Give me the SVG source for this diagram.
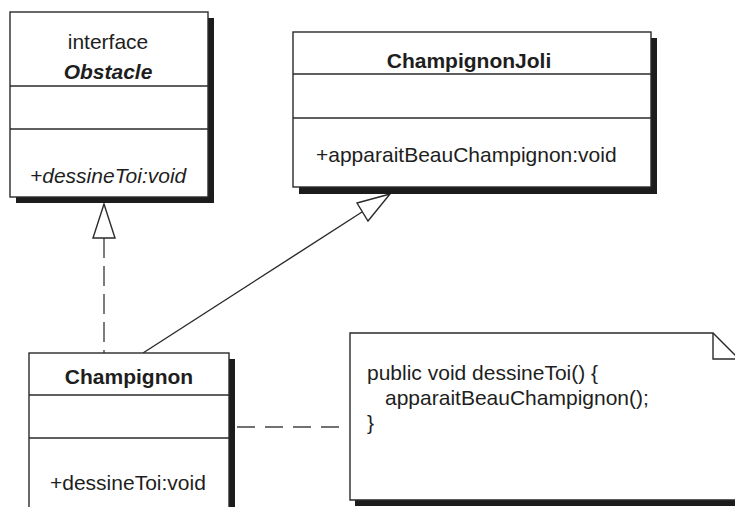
<svg xmlns="http://www.w3.org/2000/svg" width="735" height="507" viewBox="0 0 735 507">
<style>
.shadow{fill:#1c1c1c;stroke:none}
.box{fill:#fff;stroke:#2a2a2a;stroke-width:1.4}
.div{stroke:#2a2a2a;stroke-width:1.4;fill:none}
.t{font-family:"Liberation Sans",Arial,sans-serif;font-size:21px;fill:#1e1e1e}
.b{font-weight:bold}
.i{font-style:italic}
.c{text-anchor:middle}
.line{stroke:#2a2a2a;stroke-width:1.4;fill:none}
.dash{stroke:#444;stroke-width:1.4;fill:none}
.head{fill:#fff;stroke:#2a2a2a;stroke-width:1.4}
</style>
<rect x="0" y="0" width="735" height="507" fill="#fff"/>
<g id="connectors">
<line class="dash" x1="104" y1="238" x2="104" y2="353" stroke-dasharray="20 8"/>
<polygon class="head" points="104,204 93,238 115,238"/>
<line class="line" x1="143" y1="353" x2="362" y2="212"/>
<polygon class="head" points="390,194 357,203 368,221"/>
<line class="dash" x1="237" y1="427" x2="342" y2="427" stroke-dasharray="18 10"/>
</g>
<g id="Obstacle">
<rect class="shadow" x="16" y="18" width="198" height="185"/>
<rect class="box" x="10" y="12" width="198" height="185"/>
<line class="div" x1="10" y1="86" x2="208" y2="86"/>
<line class="div" x1="10" y1="129" x2="208" y2="129"/>
<text class="t c" x="108" y="49">interface</text>
<text class="t b i c" x="108" y="79">Obstacle</text>
<text class="t i" x="30" y="183">+dessineToi:void</text>
</g>
<g id="ChampignonJoli">
<rect class="shadow" x="299" y="38" width="358" height="156"/>
<rect class="box" x="293" y="32" width="358" height="155"/>
<line class="div" x1="293" y1="74" x2="651" y2="74"/>
<line class="div" x1="293" y1="118" x2="651" y2="118"/>
<text class="t b c" x="469" y="68">ChampignonJoli</text>
<text class="t" x="316" y="162">+apparaitBeauChampignon:void</text>
</g>
<g id="Champignon">
<rect class="shadow" x="35" y="359" width="200" height="160"/>
<rect class="box" x="29" y="353" width="200" height="170"/>
<line class="div" x1="29" y1="395" x2="229" y2="395"/>
<line class="div" x1="29" y1="438" x2="229" y2="438"/>
<text class="t b c" x="129" y="384">Champignon</text>
<text class="t" x="50" y="490">+dessineToi:void</text>
</g>
<g id="note">
<polygon class="shadow" points="355,339 719,339 746,366 746,506 355,506"/>
<polygon class="box" points="350,333 713,333 740,360 740,500 350,500"/>
<polyline class="div" points="713,333 713,359 740,359"/>
<text class="t" x="367" y="380">public void dessineToi() {</text>
<text class="t" x="385" y="405">apparaitBeauChampignon();</text>
<text class="t" x="367" y="430">}</text>
</g>
</svg>
